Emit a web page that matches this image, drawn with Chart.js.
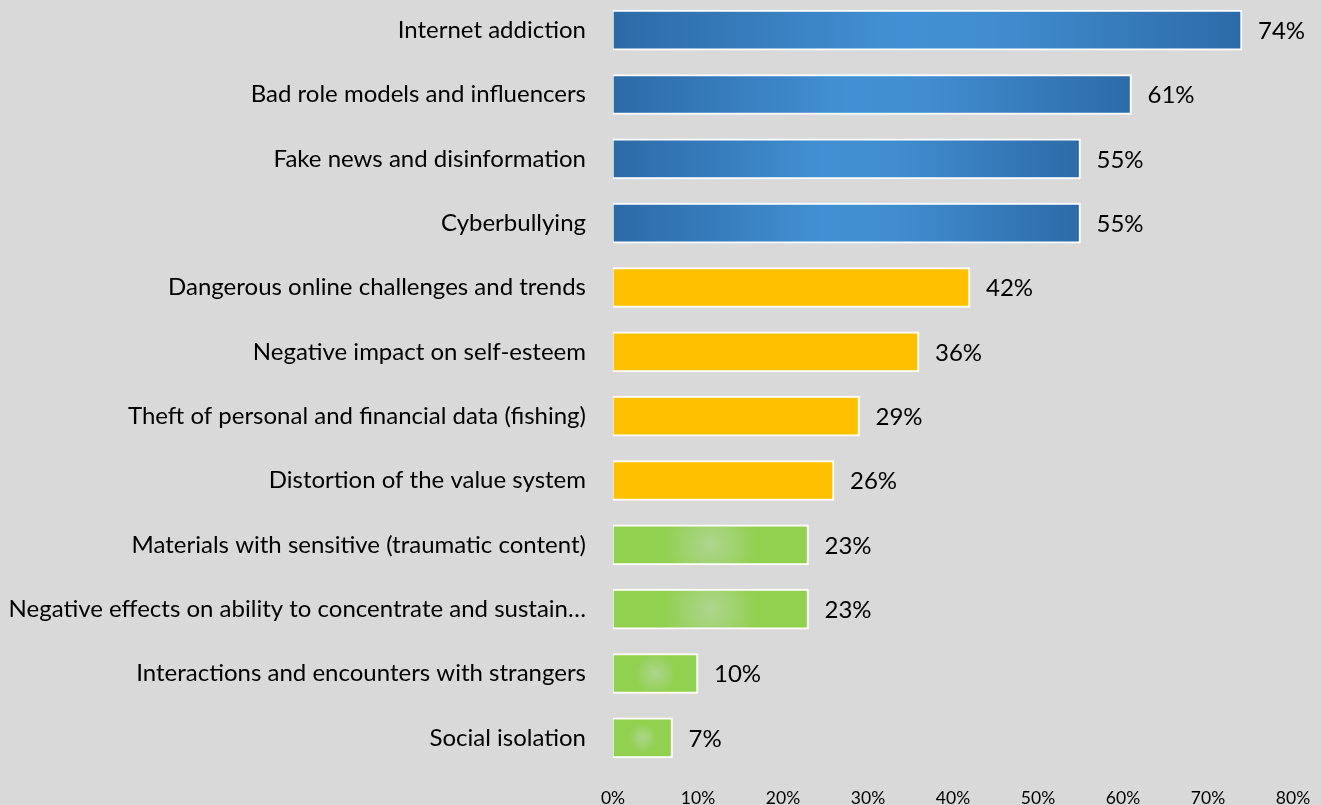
<!DOCTYPE html>
<html>
<head>
<meta charset="utf-8">
<script src="https://cdn.jsdelivr.net/npm/chart.js@4/dist/chart.umd.min.js"></script>
<style>
  html, body { margin: 0; padding: 0; background: #d9d9d9; overflow: hidden; }
  #wrap { position: absolute; left: 0; top: -2px; width: 1321px; height: 807px; }
</style>
</head>
<body>
<div id="wrap"><canvas id="c" width="1321" height="807"></canvas></div>
<script>
// Perceived online risks for children, share of respondents (%)
const categories = [
  'Internet addiction',
  'Bad role models and influencers',
  'Fake news and disinformation',
  'Cyberbullying',
  'Dangerous online challenges and trends',
  'Negative impact on self-esteem',
  'Theft of personal and financial data (fishing)',
  'Distortion of the value system',
  'Materials with sensitive (traumatic content)',
  'Negative effects on ability to concentrate and sustain\u2026',
  'Interactions and encounters with strangers',
  'Social isolation'
];
const values = [74, 61, 55, 55, 42, 36, 29, 26, 23, 23, 10, 7];
// tier of each row: 0 = top group (blue), 1 = middle (amber), 2 = lower (green)
const tiers = [0, 0, 0, 0, 1, 1, 1, 1, 2, 2, 2, 2];
const xTicks = [0, 10, 20, 30, 40, 50, 60, 70, 80];

const FONT = 'Lato, "Open Sans", sans-serif';
const flat = ['#3580c2', '#ffc000', '#92d050'];

function barFill(context) {
  const chart = context.chart;
  const i = context.dataIndex;
  if (i === undefined) return flat[0];
  const tier = tiers[i];
  if (tier === 1) return flat[1];
  const xs = chart.scales.x, ys = chart.scales.y;
  if (!chart.chartArea || !xs || !ys) return flat[tier];
  const x0 = xs.getPixelForValue(0);
  const x1 = xs.getPixelForValue(values[i]);
  const cy = ys.getPixelForValue(i);
  if (![x0, x1, cy].every(Number.isFinite) || x1 <= x0) return flat[tier];
  const c = chart.ctx;
  if (tier === 0) {
    const g = c.createLinearGradient(x0, 0, x1, 0);
    g.addColorStop(0, '#2c6aa7');
    g.addColorStop(0.45, '#4290d3');
    g.addColorStop(0.6, '#418dd0');
    g.addColorStop(1, '#2c6ba8');
    return g;
  }
  const cx = (x0 + x1) / 2;
  const r = (x1 - x0) * 0.24;
  const g = c.createRadialGradient(cx, cy, 0, cx, cy, r);
  g.addColorStop(0, '#aed58e');
  g.addColorStop(1, '#92d050');
  return g;
}

const valueLabels = {
  id: 'valueLabels',
  afterDatasetsDraw(chart) {
    const c = chart.ctx;
    const meta = chart.getDatasetMeta(0);
    c.save();
    c.font = '24px ' + FONT;
    c.fillStyle = '#000000';
    c.textAlign = 'left';
    c.textBaseline = 'middle';
    meta.data.forEach((bar, i) => {
      c.fillText(values[i] + '%', bar.x + 16, bar.y + 1);
    });
    c.restore();
  }
};

const chart = new Chart(document.getElementById('c'), {
  type: 'bar',
  data: {
    labels: categories,
    datasets: [{
      data: values,
      backgroundColor: barFill,
      borderColor: '#ffffff',
      borderWidth: { top: 2, bottom: 2, right: 2, left: 1 },
      borderSkipped: false,
      barThickness: 40
    }]
  },
  options: {
    indexAxis: 'y',
    responsive: false,
    animation: false,
    layout: { padding: { left: 0, right: 28, top: 0, bottom: 0 } },
    plugins: {
      legend: { display: false },
      tooltip: { enabled: false }
    },
    scales: {
      x: {
        min: 0,
        max: 80,
        grid: { display: false, drawTicks: false },
        border: { display: false },
        afterBuildTicks(scale) {
          scale.ticks = xTicks.map(v => ({ value: v }));
        },
        afterFit(scale) {
          scale.height = 35;
          scale.paddingLeft = 0;
          scale.paddingRight = 0;
        },
        ticks: {
          padding: 18,
          color: '#000000',
          font: { family: FONT, size: 17.5 },
          callback: v => v + '%'
        }
      },
      y: {
        grid: { display: false, drawTicks: false },
        border: { display: false },
        afterFit(scale) {
          scale.width = 613;
          scale.paddingTop = 0;
          scale.paddingBottom = 0;
        },
        ticks: {
          padding: 27,
          color: '#000000',
          font: { family: FONT, size: 24 }
        }
      }
    }
  },
  plugins: [valueLabels]
});
// second pass so the gradients are built against the laid-out scales
chart.update();
</script>
</body>
</html>
